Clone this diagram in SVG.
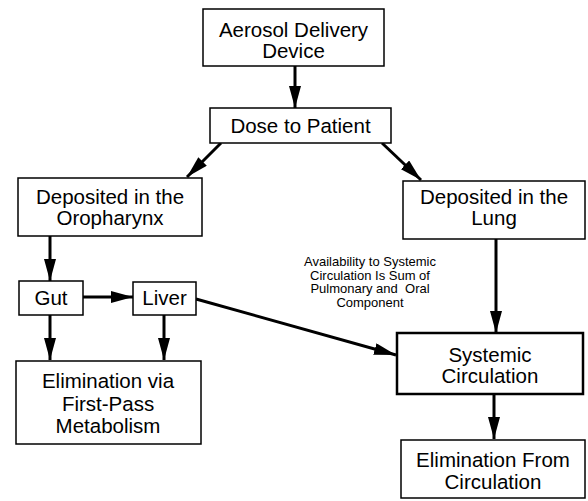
<svg xmlns="http://www.w3.org/2000/svg" width="588" height="501" viewBox="0 0 588 501">
<defs>
<marker id="ah" markerUnits="userSpaceOnUse" markerWidth="23" markerHeight="13" refX="22" refY="6" orient="auto">
<path d="M0,0 L22,6 L0,12 z" fill="#000"/>
</marker>
</defs>
<style>
.box{fill:#fff;stroke:#000;stroke-width:1.5}
.thick{stroke-width:2.5}
.t{font-family:"Liberation Sans",Arial,sans-serif;font-size:20.5px;fill:#000;text-anchor:middle}
.s{font-family:"Liberation Sans",Arial,sans-serif;font-size:13px;fill:#000;text-anchor:middle}
.c{stroke:#000;stroke-width:3;fill:none;marker-end:url(#ah)}
</style>
<rect width="588" height="501" fill="#fff"/>
<g id="connectors">
<line class="c" x1="295" y1="66" x2="295" y2="108"/>
<line class="c" x1="221" y1="143" x2="187" y2="177"/>
<line class="c" x1="382" y1="143" x2="421" y2="180"/>
<line class="c" x1="50" y1="236" x2="50" y2="281"/>
<line class="c" x1="83" y1="297" x2="133" y2="297"/>
<line class="c" x1="50" y1="315" x2="50" y2="360"/>
<line class="c" x1="164" y1="315" x2="164" y2="360"/>
<line class="c" x1="196" y1="299" x2="396" y2="355"/>
<line class="c" x1="496" y1="239" x2="496" y2="333"/>
<line class="c" x1="494" y1="394" x2="494" y2="439"/>
</g>
<g id="aerosol">
<rect class="box" x="203" y="9" width="181" height="57"/>
<text class="t" x="293.5" y="37">Aerosol Delivery</text>
<text class="t" x="293.5" y="58">Device</text>
</g>
<g id="dose">
<rect class="box" x="210" y="108" width="181" height="35"/>
<text class="t" x="300.5" y="133">Dose to Patient</text>
</g>
<g id="oropharynx">
<rect class="box" x="18" y="178" width="184" height="58"/>
<text class="t" x="110" y="204">Deposited in the</text>
<text class="t" x="110" y="225">Oropharynx</text>
</g>
<g id="lung">
<rect class="box" x="403" y="181" width="182" height="58"/>
<text class="t" x="494" y="204">Deposited in the</text>
<text class="t" x="494" y="225">Lung</text>
</g>
<g id="gut">
<rect class="box" x="19" y="281" width="64" height="34"/>
<text class="t" x="51" y="305">Gut</text>
</g>
<g id="liver">
<rect class="box" x="133" y="282" width="63" height="33"/>
<text class="t" x="164.5" y="305">Liver</text>
</g>
<g id="label">
<text class="s" x="370" y="266">Availability to Systemic</text>
<text class="s" x="370" y="279.5">Circulation Is Sum of</text>
<text class="s" x="370" y="293" xml:space="preserve">Pulmonary and  Oral</text>
<text class="s" x="370" y="306.5">Component</text>
</g>
<g id="systemic">
<rect class="box thick" x="397" y="333" width="186" height="61"/>
<text class="t" x="490" y="362">Systemic</text>
<text class="t" x="490" y="383">Circulation</text>
</g>
<g id="elimvia">
<rect class="box" x="16" y="361" width="185" height="83"/>
<text class="t" x="108" y="388">Elimination via</text>
<text class="t" x="108" y="410.5">First-Pass</text>
<text class="t" x="108" y="433">Metabolism</text>
</g>
<g id="elimfrom">
<rect class="box" x="401" y="440" width="184" height="58"/>
<text class="t" x="493" y="467">Elimination From</text>
<text class="t" x="493" y="489">Circulation</text>
</g>
</svg>
